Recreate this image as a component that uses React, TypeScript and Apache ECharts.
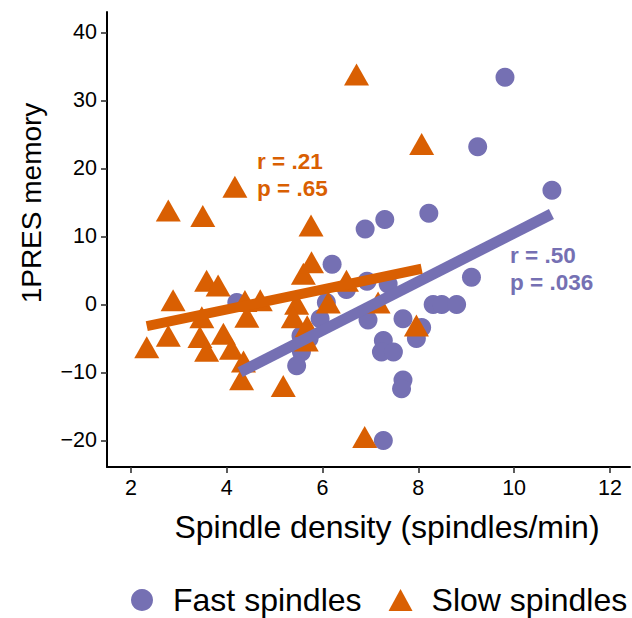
import React, { useEffect, useRef } from "react";
import * as echarts from "echarts";

const FONT = '"Liberation Sans", Arial, Helvetica, sans-serif';
const PURPLE = "#7570B3";
const ORANGE = "#D95F02";

// Fast spindles (circles)
const fastX = [9.81, 9.24, 10.79, 8.22, 7.30, 6.89, 6.20, 9.11, 8.31, 8.49, 8.80, 6.50, 6.93, 7.37, 6.95, 7.68, 8.07, 7.96, 7.27, 7.23, 7.48, 7.68, 7.65, 7.27, 6.08, 5.95, 5.55, 5.72, 5.56, 5.46, 4.21];
const fastY = [33.4, 23.2, 16.8, 13.4, 12.5, 11.1, 5.9, 4.0, 0.0, 0.0, 0.0, 2.2, 3.4, 3.0, -2.3, -2.1, -3.4, -5.0, -5.3, -7.0, -7.0, -11.1, -12.4, -20.0, 0.3, -2.1, -4.6, -5.0, -7.0, -9.0, 0.3];

// Slow spindles (triangles)
const slowX = [2.33, 2.78, 2.88, 2.78, 3.50, 3.58, 3.82, 3.48, 3.44, 3.58, 3.93, 4.10, 4.35, 4.31, 4.38, 4.70, 4.42, 4.17, 5.18, 5.46, 5.39, 5.60, 5.77, 5.76, 6.50, 6.12, 5.68, 5.66, 6.71, 8.07, 7.96, 6.88, 7.16];
const slowY = [-6.3, -4.6, 0.6, 13.8, 13.0, 3.5, 2.8, -1.9, -4.8, -6.8, -4.3, -6.5, -8.4, -11.0, 0.5, 0.6, -1.8, 17.3, -12.0, 0.1, -1.9, 4.5, 6.2, 11.6, 3.5, 0.3, -3.2, -5.3, 33.8, 23.6, -3.1, -19.5, 0.3];

// Fitted regression lines (end points)
const fastFitX = [4.28, 10.78];
const fastFitY = [-9.95, 13.3];
const slowFitX = [2.33, 8.07];
const slowFitY = [-3.2, 5.25];

const xTicks = [2, 4, 6, 8, 10, 12];
const yTicks = [-20, -10, 0, 10, 20, 30, 40];

const seriesNames = ["Fast spindles", "Slow spindles"];
const fastStats = ["r = .50", "p = .036"];
const slowStats = ["r = .21", "p = .65"];
const xTitle = "Spindle density (spindles/min)";
const yTitle = "1PRES memory";

const zip = (xs: number[], ys: number[]) => xs.map((x, i) => [x, ys[i]]);

export default function App() {
  const ref = useRef<HTMLDivElement>(null);
  useEffect(() => {
    const chart = echarts.init(ref.current!, null, { renderer: "svg" });
    const tickLabel = {
      fontSize: 21.5,
      color: "#000",
      fontFamily: FONT,
      margin: 10,
    };
    const statText = (text: string, x: number, y: number, color: string) => ({
      type: "text",
      x,
      y,
      style: {
        text,
        fill: color,
        fontSize: 22.5,
        fontWeight: "bold",
        fontFamily: FONT,
        textAlign: "left",
        align: "left",
        textVerticalAlign: "middle",
        verticalAlign: "middle",
      },
    });
    chart.setOption({
      animation: false,
      backgroundColor: "#fff",
      grid: { left: 107, right: 2, top: 12, bottom: 151, containLabel: false },
      xAxis: {
        type: "value",
        min: 1.5,
        max: 12.42,
        splitLine: { show: false },
        axisLine: { show: true, onZero: false, lineStyle: { color: "#000", width: 2 } },
        axisTick: { show: true, customValues: xTicks, length: 6, lineStyle: { color: "#333", width: 1.6 } },
        axisLabel: { ...tickLabel, customValues: xTicks },
      },
      yAxis: {
        type: "value",
        min: -23.9,
        max: 43,
        splitLine: { show: false },
        axisLine: { show: true, onZero: false, lineStyle: { color: "#000", width: 2 } },
        axisTick: { show: true, customValues: yTicks, length: 6, lineStyle: { color: "#333", width: 1.6 } },
        axisLabel: {
          ...tickLabel,
          customValues: yTicks,
          formatter: (v: number) => String(v).replace("-", "\u2212"),
        },
      },
      legend: {
        data: [
          { name: seriesNames[0], icon: "circle" },
          { name: seriesNames[1], icon: "triangle" },
        ],
        left: 131,
        top: 584,
        width: 501,
        padding: 0,
        itemWidth: 24,
        itemHeight: 22,
        itemGap: 27,
        textStyle: { fontSize: 32, fontFamily: FONT, color: "#000", padding: [0, 0, 0, 14] },
      },
      series: [
        {
          name: seriesNames[0],
          type: "scatter",
          symbol: "circle",
          symbolSize: 19,
          itemStyle: { color: PURPLE, opacity: 1 },
          data: zip(fastX, fastY),
          z: 2,
        },
        {
          name: seriesNames[1],
          type: "scatter",
          symbol: "triangle",
          symbolSize: [25, 22],
          itemStyle: { color: ORANGE, opacity: 1 },
          data: zip(slowX, slowY),
          z: 3,
        },
        {
          name: "fast fit",
          type: "line",
          symbol: "none",
          silent: true,
          lineStyle: { color: PURPLE, width: 11, cap: "butt" },
          data: zip(fastFitX, fastFitY),
          z: 4,
        },
        {
          name: "slow fit",
          type: "line",
          symbol: "none",
          silent: true,
          lineStyle: { color: ORANGE, width: 10, cap: "butt" },
          data: zip(slowFitX, slowFitY),
          z: 5,
        },
      ],
      graphic: [
        statText(slowStats[0], 257, 161, ORANGE),
        statText(slowStats[1], 257, 188, ORANGE),
        statText(fastStats[0], 510, 255, PURPLE),
        statText(fastStats[1], 510, 282, PURPLE),
        {
          type: "text",
          x: 387,
          y: 527,
          style: {
            text: xTitle,
            fill: "#000",
            fontSize: 32,
            fontFamily: FONT,
            textAlign: "center",
            align: "center",
            textVerticalAlign: "middle",
            verticalAlign: "middle",
          },
        },
        {
          type: "text",
          x: 31,
          y: 203,
          rotation: Math.PI / 2,
          style: {
            text: yTitle,
            fill: "#000",
            fontSize: 28,
            fontFamily: FONT,
            textAlign: "center",
            align: "center",
            textVerticalAlign: "middle",
            verticalAlign: "middle",
          },
        },
      ],
    });
    return () => chart.dispose();
  }, []);
  return (
    <div
      ref={ref}
      style={{ position: "fixed", left: 0, top: 0, width: 632, height: 618 }}
    />
  );
}
